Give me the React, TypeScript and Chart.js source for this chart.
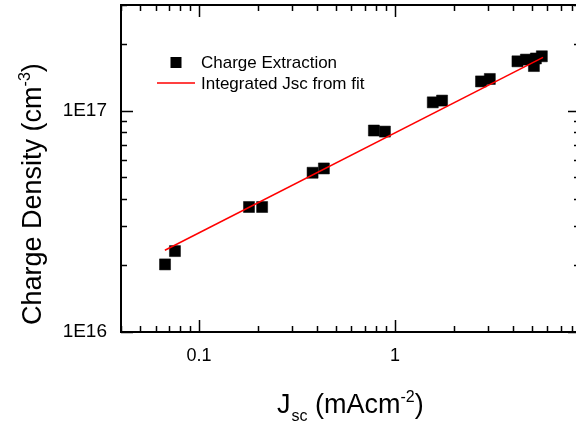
import React, { useEffect, useRef } from "react";
import { Chart, registerables } from "chart.js";

Chart.register(...registerables);

// Charge extraction data (Jsc in mA cm^-2, charge density in cm^-3)
const jscValues = [0.0671, 0.0754, 0.18, 0.21, 0.38, 0.434, 0.781, 0.889, 1.56, 1.74, 2.75, 3.05, 4.22, 4.66, 5.12, 5.24, 5.62];
const chargeValues = [2.02e16, 2.32e16, 3.67e16, 3.67e16, 5.24e16, 5.48e16, 8.13e16, 8.04e16, 1.09e17, 1.11e17, 1.355e17, 1.39e17, 1.67e17, 1.7e17, 1.59e17, 1.72e17, 1.76e17];
// Integrated Jsc from fit (straight line in log-log)
const fitJsc = [0.067, 5.7];
const fitCharge = [2.34e16, 1.74e17];

const seriesLabels = ["Charge Extraction", "Integrated Jsc from fit"];
const xTickLabels: Record<string, string> = { "-1": "0.1", "0": "1" };
const yTickLabels: Record<string, string> = { "16": "1E16", "17": "1E17" };

const FONT = "'Liberation Sans', Arial, sans-serif";

const isPow10 = (v: number) => {
  const l = Math.log10(v);
  return Math.abs(l - Math.round(l)) < 1e-9;
};

const framePlugin = {
  id: "originFrame",
  afterDraw(chart: any) {
    const { ctx, chartArea } = chart;
    const { left, right, top, bottom } = chartArea;
    const xs = chart.scales.x;
    const ys = chart.scales.y;
    ctx.save();
    ctx.strokeStyle = "#000";
    ctx.lineWidth = 1.5;
    const tickInfo = (v: number) => {
      const e = Math.floor(Math.log10(v) + 1e-9);
      const m = v / Math.pow(10, e);
      if (Math.abs(m - Math.round(m)) > 1e-6) return null;
      return Math.round(m) === 1 || Math.round(m) === 10 ? 12 : 6;
    };
    ctx.beginPath();
    for (const t of xs.ticks) {
      const len = tickInfo(t.value);
      if (!len) continue;
      const px = Math.round(xs.getPixelForValue(t.value)) + 0.5;
      ctx.moveTo(px, bottom);
      ctx.lineTo(px, bottom - len);
      ctx.moveTo(px, top);
      ctx.lineTo(px, top + len);
    }
    for (const t of ys.ticks) {
      const len = tickInfo(t.value);
      if (!len) continue;
      const py = Math.round(ys.getPixelForValue(t.value)) + 0.5;
      ctx.moveTo(left, py);
      ctx.lineTo(left + len, py);
      ctx.moveTo(right, py);
      ctx.lineTo(right - len, py);
    }
    ctx.stroke();
    ctx.lineWidth = 2;
    ctx.strokeRect(left, top, right - left, bottom - top);

    // legend
    const ds0 = chart.data.datasets[0];
    const ds1 = chart.data.datasets[1];
    ctx.fillStyle = ds0.backgroundColor;
    ctx.fillRect(170.5, 57, 11, 11);
    ctx.strokeStyle = ds1.borderColor;
    ctx.lineWidth = 1.5;
    ctx.beginPath();
    ctx.moveTo(157, 83);
    ctx.lineTo(195, 83);
    ctx.stroke();
    ctx.fillStyle = "#000";
    ctx.font = `17px ${FONT}`;
    ctx.textBaseline = "alphabetic";
    ctx.textAlign = "left";
    ctx.fillText(ds0.label, 201, 68);
    ctx.fillText(ds1.label, 201, 89);

    // x title: J_sc (mAcm^-2)
    const big = `27px ${FONT}`;
    const small = `16px ${FONT}`;
    let x = 277;
    const yb = 413;
    ctx.font = big;
    ctx.fillText("J", x, yb);
    x += ctx.measureText("J").width + 1;
    ctx.font = small;
    ctx.fillText("sc", x, yb + 8);
    x += ctx.measureText("sc").width;
    ctx.font = big;
    ctx.fillText(" (mAcm", x, yb);
    x += ctx.measureText(" (mAcm").width;
    ctx.font = small;
    ctx.fillText("-2", x, yb - 11);
    x += ctx.measureText("-2").width;
    ctx.font = big;
    ctx.fillText(")", x, yb);

    // y title: Charge Density (cm^-3)
    ctx.save();
    ctx.translate(41, 325);
    ctx.rotate(-Math.PI / 2);
    let s = 0;
    ctx.font = big;
    ctx.fillText("Charge Density (cm", s, 0);
    s += ctx.measureText("Charge Density (cm").width;
    ctx.font = small;
    ctx.fillText("-3", s, -11);
    s += ctx.measureText("-3").width;
    ctx.font = big;
    ctx.fillText(")", s, 0);
    ctx.restore();

    ctx.restore();
  },
};

export default function App() {
  const ref = useRef<HTMLCanvasElement | null>(null);
  useEffect(() => {
    if (!ref.current) return;
    const chart = new Chart(ref.current, {
      type: "scatter",
      data: {
        datasets: [
          {
            label: seriesLabels[0],
            data: jscValues.map((v, i) => ({ x: v, y: chargeValues[i] })),
            pointStyle: "rect",
            pointRadius: 7.8,
            backgroundColor: "#000000",
            borderColor: "#000000",
            borderWidth: 0.5,
            showLine: false,
            order: 1,
          },
          {
            label: seriesLabels[1],
            data: fitJsc.map((v, i) => ({ x: v, y: fitCharge[i] })),
            showLine: true,
            pointRadius: 0,
            borderColor: "#ff0000",
            backgroundColor: "#ff0000",
            borderWidth: 1.5,
            order: 0,
          },
        ],
      },
      options: {
        responsive: false,
        animation: false,
        devicePixelRatio: 1,
        layout: { autoPadding: false, padding: { top: 5, right: 10, left: 0, bottom: 0 } },
        plugins: { legend: { display: false }, tooltip: { enabled: false } },
        scales: {
          x: {
            type: "logarithmic",
            position: "bottom",
            min: 0.04,
            max: 8.8,
            grid: { display: false, drawTicks: false },
            border: { display: false },
            afterFit: (s: any) => {
              s.height = 91;
              s.paddingLeft = 0;
              s.paddingRight = 0;
            },
            ticks: {
              autoSkip: false,
              maxRotation: 0,
              padding: 13,
              color: "#000",
              font: { family: FONT, size: 18 },
              callback: (v: any) => {
                const n = Number(v);
                return isPow10(n) ? xTickLabels[String(Math.round(Math.log10(n)))] ?? "" : "";
              },
            },
          },
          y: {
            type: "logarithmic",
            position: "left",
            min: 1e16,
            max: 3e17,
            grid: { display: false, drawTicks: false },
            border: { display: false },
            afterFit: (s: any) => {
              s.width = 121;
              s.paddingTop = 0;
              s.paddingBottom = 0;
            },
            ticks: {
              autoSkip: false,
              padding: 14,
              color: "#000",
              font: { family: FONT, size: 19 },
              callback: (v: any) => {
                const n = Number(v);
                return isPow10(n) ? yTickLabels[String(Math.round(Math.log10(n)))] ?? "" : "";
              },
            },
          },
        },
      },
      plugins: [framePlugin],
    });
    return () => chart.destroy();
  }, []);
  return (
    <div
      style={{
        position: "fixed",
        left: 0,
        top: 0,
        width: 576,
        height: 423,
        overflow: "hidden",
        background: "#fff",
      }}
    >
      <canvas ref={ref} width={590} height={423} style={{ display: "block" }} />
    </div>
  );
}
